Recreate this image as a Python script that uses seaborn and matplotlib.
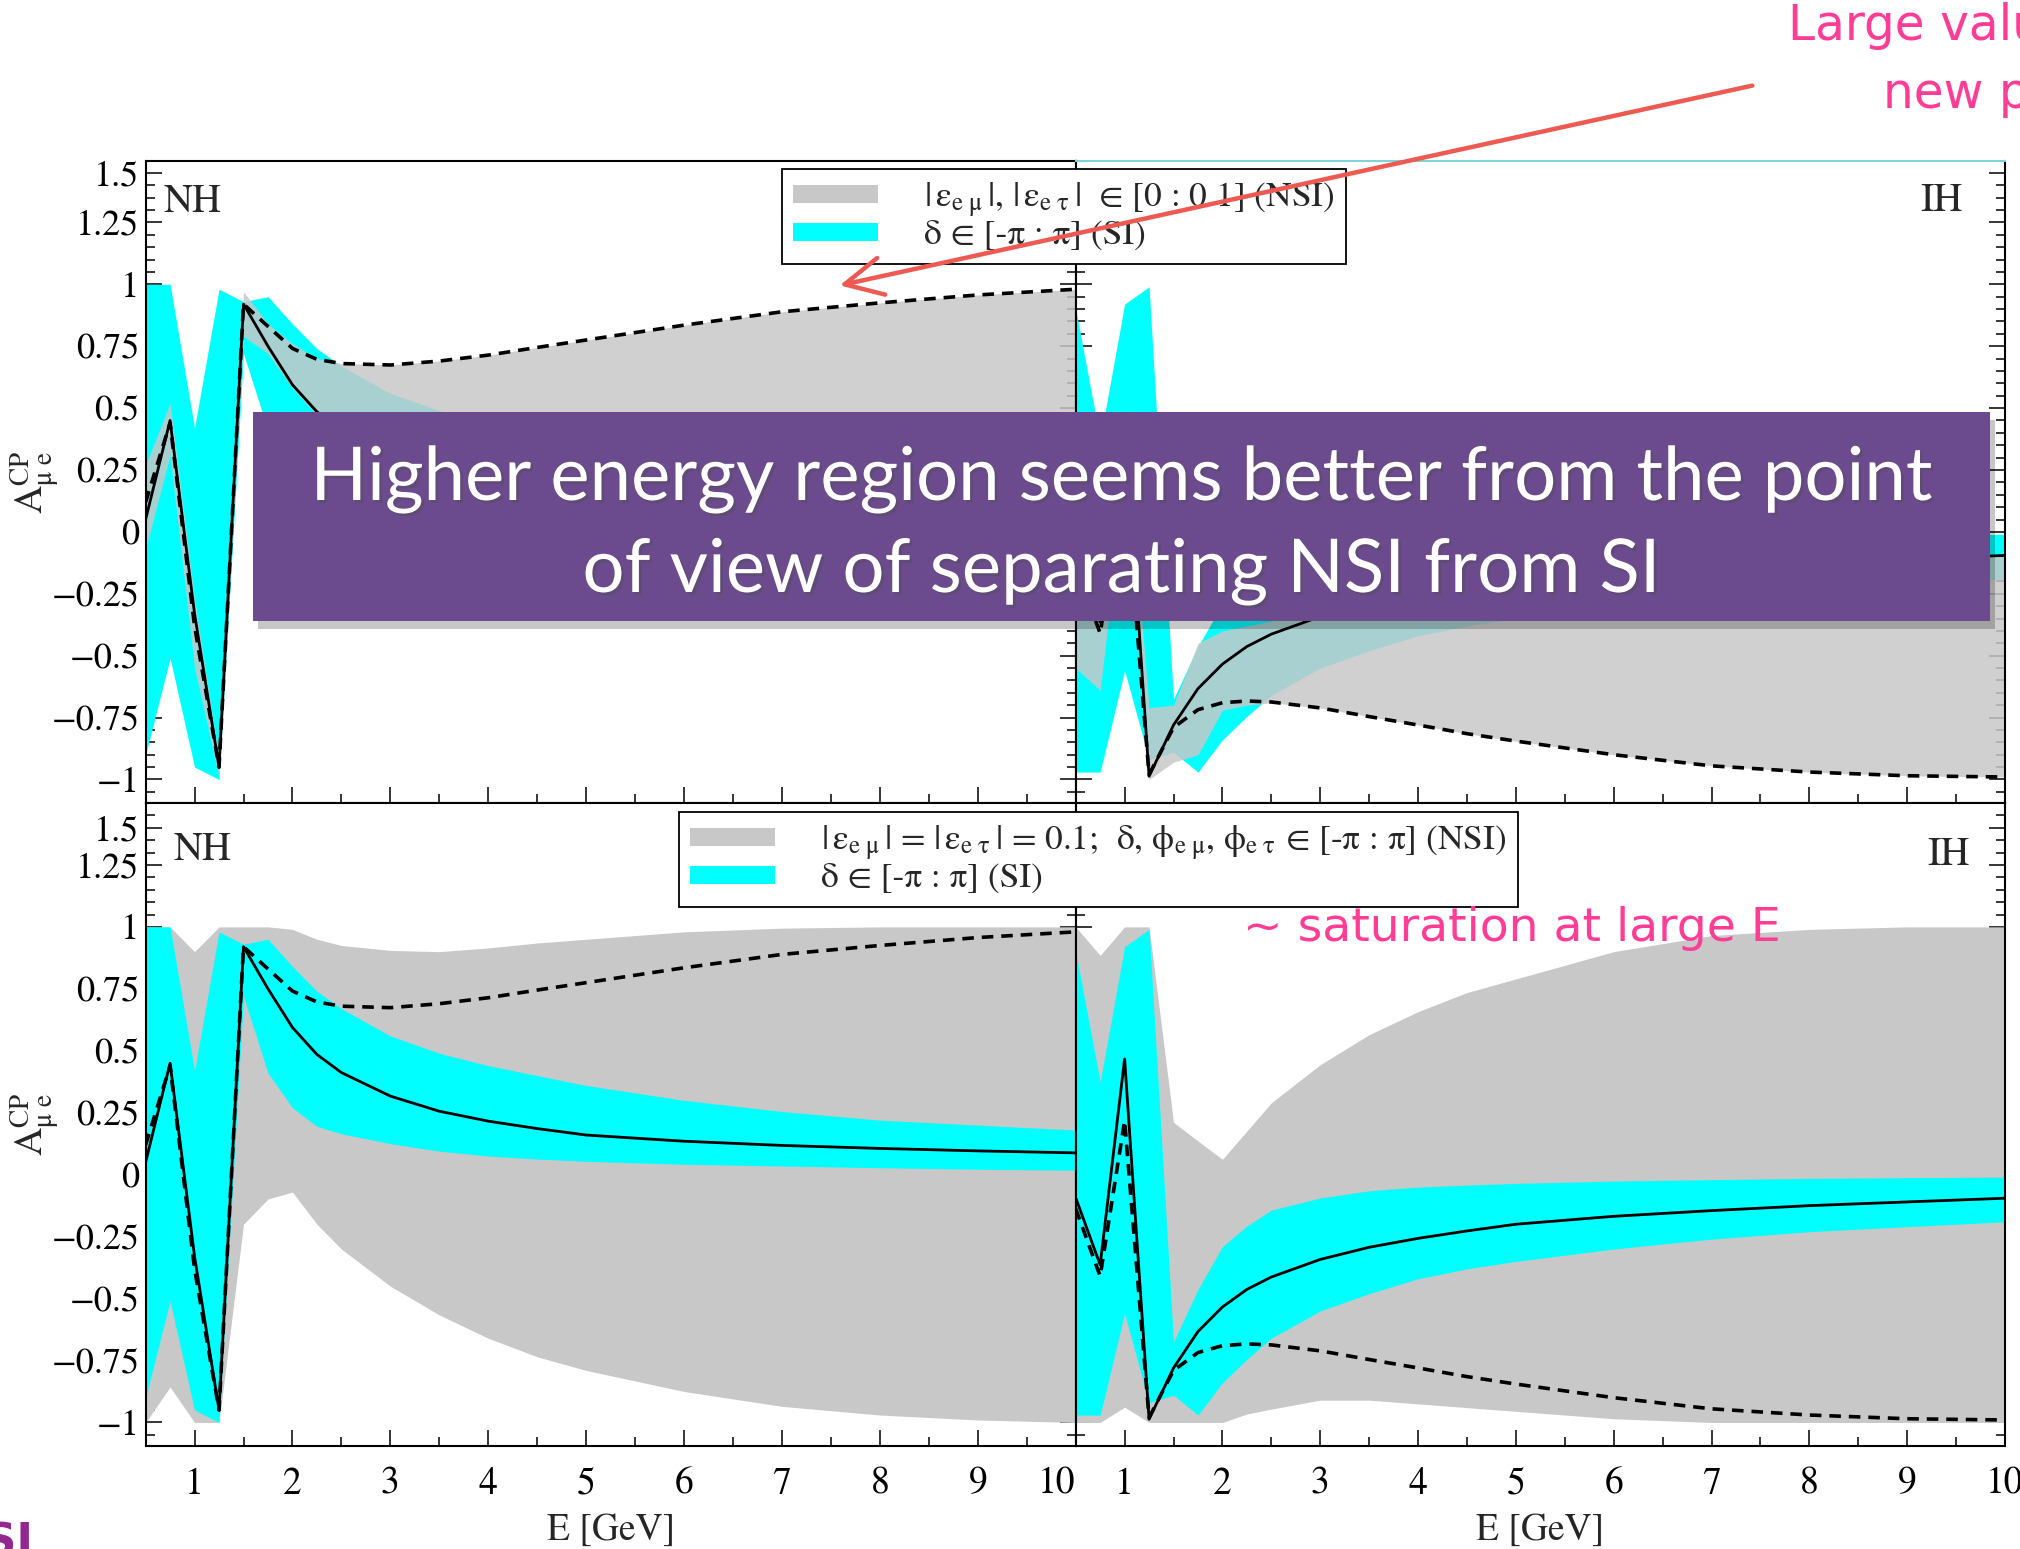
import numpy as np
import pandas as pd
import matplotlib
matplotlib.use("Agg")
import matplotlib.pyplot as plt
import seaborn as sns
from matplotlib.lines import Line2D
from matplotlib.patches import Rectangle, FancyArrowPatch
from matplotlib.ticker import FixedLocator, MultipleLocator
import matplotlib.patheffects as pe

# ---------------- data ----------------
energy = [0.5, 0.75, 1.0, 1.25, 1.5, 1.75, 2.0, 2.25, 2.5, 3, 3.5, 4, 4.5, 5, 6, 7, 8, 9, 10]

# Normal hierarchy
nh_si_line = [0.05, 0.45, -0.33, -0.95, 0.92, 0.75, 0.594, 0.485, 0.412, 0.317, 0.256, 0.216, 0.186,
              0.16, 0.135, 0.118, 0.106, 0.096, 0.088]
nh_nsi_line = [0.12, 0.44, -0.38, -0.95, 0.92, 0.83, 0.741, 0.697, 0.68, 0.674, 0.69, 0.714, 0.745,
               0.775, 0.835, 0.889, 0.925, 0.957, 0.98]
nh_si_hi = [1.0, 1.0, 0.42, 0.98, 0.93, 0.95, 0.84, 0.74, 0.67, 0.56, 0.49, 0.44, 0.40,
            0.36, 0.30, 0.255, 0.22, 0.20, 0.18]
nh_si_lo = [-0.9, -0.51, -0.95, -1.0, 0.72, 0.41, 0.27, 0.195, 0.165, 0.125, 0.095, 0.075, 0.063,
            0.054, 0.042, 0.035, 0.028, 0.022, 0.018]
nh_nsi01_hi = [0.27, 0.52, -0.27, -0.92, 0.97, 0.84, 0.76, 0.70, 0.68, 0.675, 0.69, 0.714, 0.745,
               0.775, 0.835, 0.889, 0.925, 0.957, 0.98]
nh_nsi01_lo = [-0.07, 0.31, -0.55, -0.99, 0.79, 0.72, 0.58, 0.47, 0.40, 0.31, 0.25, 0.21, 0.18,
               0.155, 0.13, 0.113, 0.10, 0.092, 0.085]
nh_nsiall_hi = [1.0, 1.0, 0.9, 1.0, 1.0, 1.0, 0.99, 0.95, 0.925, 0.905, 0.9, 0.915, 0.935,
                0.95, 0.98, 0.995, 1.0, 1.0, 1.0]
nh_nsiall_lo = [-1.0, -0.857, -1.0, -1.0, -0.2, -0.098, -0.07, -0.2, -0.3, -0.45, -0.566, -0.66, -0.735,
                -0.79, -0.875, -0.935, -0.97, -0.99, -1.0]

# Inverted hierarchy
ih_si_line = [-0.093, -0.364, 0.467, -0.987, -0.78, -0.633, -0.534, -0.463, -0.413, -0.342, -0.293, -0.257,
              -0.227, -0.2, -0.168, -0.145, -0.125, -0.11, -0.095]
ih_nsi_line = [-0.137, -0.41, 0.218, -0.98, -0.79, -0.718, -0.69, -0.683, -0.687, -0.711, -0.746, -0.78,
               -0.815, -0.845, -0.9, -0.945, -0.97, -0.985, -0.99]
ih_si_hi = [0.9, 0.374, 0.92, 0.99, -0.675, -0.463, -0.29, -0.207, -0.143, -0.094, -0.065, -0.05,
            -0.042, -0.035, -0.026, -0.02, -0.015, -0.012, -0.01]
ih_si_lo = [-0.97, -0.97, -0.56, -0.92, -0.89, -0.97, -0.84, -0.745, -0.66, -0.55, -0.48, -0.42,
            -0.38, -0.35, -0.30, -0.26, -0.23, -0.21, -0.19]
ih_nsi01_hi = [-0.05, -0.36, 0.5, -0.71, -0.7, -0.45, -0.40, -0.38, -0.36, -0.32, -0.29, -0.255,
               -0.225, -0.2, -0.168, -0.145, -0.125, -0.11, -0.095]
ih_nsi01_lo = [-0.55, -0.64, 0.2, -1.0, -0.93, -0.9, -0.72, -0.70, -0.69, -0.711, -0.746, -0.78,
               -0.815, -0.845, -0.9, -0.945, -0.97, -0.985, -0.99]
ih_nsiall_hi = [1.0, 0.885, 1.0, 1.0, 0.211, 0.136, 0.062, 0.176, 0.29, 0.444, 0.565, 0.658,
                0.735, 0.79, 0.9, 0.965, 0.99, 1.0, 1.0]
ih_nsiall_lo = [-1.0, -1.0, -0.938, -1.0, -1.0, -1.0, -1.0, -0.966, -0.946, -0.91, -0.91, -0.925,
                -0.94, -0.955, -0.985, -1.0, -1.0, -1.0, -1.0]

x_ticks = [1, 2, 3, 4, 5, 6, 7, 8, 9, 10]
x_tick_labels = ["1", "2", "3", "4", "5", "6", "7", "8", "9", "10"]
y_tick_labels = ["\u22121", "\u22120.75", "\u22120.5", "\u22120.25", "0", "0.25", "0.5", "0.75",
                 "1", "1.25", "1.5"]

EPS_EMU = r"$|\,\mathrm{\varepsilon}_{\mathrm{e\ \mu}}\,|$"
EPS_ETAU = r"$|\,\mathrm{\varepsilon}_{\mathrm{e\ \tau}}\,|$"
PHI_EMU = r"$\mathrm{\phi}_{\mathrm{e\ \mu}}$"
PHI_ETAU = r"$\mathrm{\phi}_{\mathrm{e\ \tau}}$"
legend_top = [EPS_EMU + ", " + EPS_ETAU + "  \u2208 [0 : 0.1] (NSI)",
              "\u03b4 \u2208 [-\u03c0 : \u03c0] (SI)"]
legend_bottom = [EPS_EMU + " = " + EPS_ETAU + " = 0.1;  \u03b4, " + PHI_EMU + ", " + PHI_ETAU +
                 " \u2208 [-\u03c0 : \u03c0] (NSI)",
                 "\u03b4 \u2208 [-\u03c0 : \u03c0] (SI)"]

banner_lines = ["Higher energy region seems better from the point", "of view of separating NSI from SI"]

# ---------------- style ----------------
sns.set_theme(style="ticks")
plt.rcParams["font.family"] = ["STIXGeneral", "DejaVu Serif"]
plt.rcParams["mathtext.fontset"] = "stix"
plt.rcParams["axes.unicode_minus"] = True

GRAY = "#c8c8c8"
CYAN = "#00ffff"

W, H = 2020, 1549
fig = plt.figure(figsize=(W / 100, H / 100), dpi=100)
fig.patch.set_facecolor("white")


def fx(px):
    return px / W


def fy(py):
    return 1 - py / H


x_l0, x_mid, x_r1 = 145.6, 1075.7, 2005.0
y_top, y_mid, y_bot = 160.5, 803.0, 1446.0

ax_tl = fig.add_axes([fx(x_l0), fy(y_mid), (x_mid - x_l0) / W, (y_mid - y_top) / H])
ax_tr = fig.add_axes([fx(x_mid), fy(y_mid), (x_r1 - x_mid) / W, (y_mid - y_top) / H])
ax_bl = fig.add_axes([fx(x_l0), fy(y_bot), (x_mid - x_l0) / W, (y_bot - y_mid) / H])
ax_br = fig.add_axes([fx(x_mid), fy(y_bot), (x_r1 - x_mid) / W, (y_bot - y_mid) / H])

panels = [
    (ax_tl, "NH", nh_si_line, nh_nsi_line, nh_si_hi, nh_si_lo, nh_nsi01_hi, nh_nsi01_lo, True),
    (ax_tr, "IH", ih_si_line, ih_nsi_line, ih_si_hi, ih_si_lo, ih_nsi01_hi, ih_nsi01_lo, True),
    (ax_bl, "NH", nh_si_line, nh_nsi_line, nh_si_hi, nh_si_lo, nh_nsiall_hi, nh_nsiall_lo, False),
    (ax_br, "IH", ih_si_line, ih_nsi_line, ih_si_hi, ih_si_lo, ih_nsiall_hi, ih_nsiall_lo, False),
]

for ax, hier, si, nsi, shi, slo, nhi, nlo, top in panels:
    df = pd.DataFrame({"E": energy, "si": si, "nsi": nsi})
    if top:
        ax.fill_between(energy, slo, shi, color=CYAN, lw=0, zorder=1)
        ax.fill_between(energy, nlo, nhi, color=GRAY, alpha=0.85, lw=0, zorder=2)
    else:
        ax.fill_between(energy, nlo, nhi, color=GRAY, lw=0, zorder=1)
        ax.fill_between(energy, slo, shi, color=CYAN, lw=0, zorder=2)
    sns.lineplot(data=df, x="E", y="nsi", ax=ax, color="black", lw=2.6, estimator=None, sort=False,
                 zorder=3)
    ax.lines[-1].set_dashes((3.2, 2.2))
    sns.lineplot(data=df, x="E", y="si", ax=ax, color="black", lw=2.0, estimator=None, sort=False,
                 zorder=4)

    ax.set_xlim(0.5, 10)
    ax.set_ylim(-1.095, 1.5)
    ax.set_facecolor("white")
    ax.grid(False)
    ax.set_xlabel("")
    ax.set_ylabel("")
    for s in ax.spines.values():
        s.set_visible(True)
        s.set_linewidth(1.5)
        s.set_color("black")

    ax.xaxis.set_major_locator(FixedLocator(x_ticks))
    ax.xaxis.set_minor_locator(MultipleLocator(0.5))
    top_tick = 1.45 if top else 1.40
    ax.yaxis.set_major_locator(FixedLocator([-1, -0.75, -0.5, -0.25, 0, 0.25, 0.5, 0.75, 1, 1.25, top_tick]))
    ax.yaxis.set_minor_locator(MultipleLocator(0.05))
    ax.tick_params(axis="both", which="both", direction="in", left=True, right=True,
                   bottom=True, top=False, colors="black")
    ax.tick_params(which="major", length=11.5, width=1.1)
    ax.tick_params(which="minor", length=6.5, width=1.1)
    ax.tick_params(axis="y", pad=4.5, labelsize=26)
    ax.tick_params(axis="x", pad=15, labelsize=27)

    if ax in (ax_tl, ax_bl):
        ax.set_yticklabels(y_tick_labels)
        ax.set_ylabel(r"$\mathrm{A}^{\mathrm{CP}}_{\mathrm{\mu\ e}}$", fontsize=28)
        ax.yaxis.set_label_coords(-0.09, 0.5)
    else:
        ax.tick_params(axis="y", labelleft=False)
    if top:
        ax.tick_params(axis="x", labelbottom=False)
    else:
        ax.set_xticklabels(x_tick_labels)
        ax.set_xlabel("E [GeV]", fontsize=27, labelpad=8)

# hierarchy tags
ax_tl.text(0.019, 0.935, "NH", transform=ax_tl.transAxes, fontsize=29, ha="left", va="center", zorder=6)
ax_tr.text(0.954, 0.937, "IH", transform=ax_tr.transAxes, fontsize=29, ha="right", va="center", zorder=6)
ax_bl.text(0.0305, 0.927, "NH", transform=ax_bl.transAxes, fontsize=29, ha="left", va="center", zorder=6)
ax_br.text(0.962, 0.919, "IH", transform=ax_br.transAxes, fontsize=29, ha="right", va="center", zorder=6)

ax_bl.xaxis.get_major_ticks()[-1].label1.set_horizontalalignment("right")
ax_tr.spines["top"].set_color("#7fd4d4")

# legends
h_gray = Line2D([], [], color=GRAY, lw=13, solid_capstyle="butt")
h_cyan = Line2D([], [], color=CYAN, lw=13, solid_capstyle="butt")
leg_kw = dict(loc="upper left", bbox_transform=fig.transFigure, frameon=True, fancybox=False,
              edgecolor="black", framealpha=1, fontsize=25.5, handlelength=2.4, handletextpad=1.3,
              labelspacing=0.0, borderpad=0.32, borderaxespad=0)
leg1 = fig.legend([h_gray, h_cyan], legend_top, bbox_to_anchor=(fx(782), fy(169)), **leg_kw)
leg1.get_frame().set_linewidth(1.3)
leg2 = fig.legend([h_gray, h_cyan], legend_bottom, bbox_to_anchor=(fx(679), fy(812)), **leg_kw)
leg2.get_frame().set_linewidth(1.3)

# banner
bx0, bx1, by0, by1 = 252.5, 1990.0, 412.0, 621.0
shadow = Rectangle((fx(bx0 + 5), fy(by1 + 8)), (bx1 - bx0) / W, (by1 - by0) / H,
                   transform=fig.transFigure, facecolor="black", alpha=0.22, lw=0, zorder=9)
banner = Rectangle((fx(bx0), fy(by1)), (bx1 - bx0) / W, (by1 - by0) / H,
                   transform=fig.transFigure, facecolor="#6b4a8e", lw=0, zorder=10)
fig.add_artist(shadow)
fig.add_artist(banner)
for line, base in zip(banner_lines, [500, 592]):
    fig.text(fx((bx0 + bx1) / 2), fy(base), line, ha="center", va="baseline", color="white",
             fontsize=53.5, family=["Lato", "DejaVu Sans"], zorder=11,
             path_effects=[pe.SimplePatchShadow(offset=(2, -2), alpha=0.35), pe.Normal()])

# pink notes
PINK = "#ff3d96"
fig.text(fx(1788), fy(26), "Large values of", ha="left", va="center", color=PINK, fontsize=35,
         family=["DejaVu Sans"], zorder=12)
fig.text(fx(1883), fy(94), "new physics", ha="left", va="center", color=PINK, fontsize=35,
         family=["DejaVu Sans"], zorder=12)
fig.text(fx(1243), fy(928), "~ saturation at large E", ha="left", va="center", color=PINK, fontsize=34,
         family=["DejaVu Sans"], zorder=12)

# red arrow
arrow = FancyArrowPatch((fx(1755), fy(85)), (fx(837), fy(286)), transform=fig.transFigure,
                        arrowstyle="->,head_length=0.9,head_width=0.45", mutation_scale=30,
                        color="#ee5a52", lw=3.2, zorder=20)
fig.add_artist(arrow)

# cut-off footer text
fig.text(fx(34), fy(1522), "NSI", ha="right", va="top", color="#93278f", fontsize=32,
         fontweight="bold", family=["DejaVu Sans"], zorder=12)

fig.savefig("out.png", dpi=100, facecolor="white")
